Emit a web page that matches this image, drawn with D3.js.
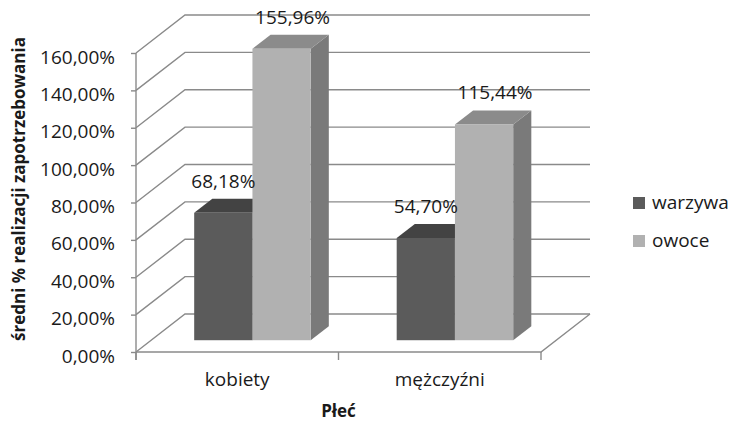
<!DOCTYPE html>
<html lang="pl">
<head>
<meta charset="UTF-8">
<title>Płeć</title>
<script src="https://cdn.jsdelivr.net/npm/d3@7"></script>
<style>
  body { margin: 0; background: #fff; }
  text { font-family: "Open Sans", "Liberation Sans", sans-serif; fill: #1a1a1a; }
</style>
</head>
<body>
<script>
// dane
var categories = ["kobiety", "mężczyźni"];
var series = ["warzywa", "owoce"];
var warzywa = [68.18, 54.70];
var owoce = [155.96, 115.44];
var yTicks = [0, 20, 40, 60, 80, 100, 120, 140, 160];

var values = [warzywa, owoce];
var frontColor = ["#5b5b5b", "#b1b1b1"];
var topColor = ["#434343", "#8b8b8b"];
var sideColor = ["#3a3a3a", "#7a7a7a"];

var width = 731, height = 421;
// uwaga: "top" to zmienna globalna okna, stąd inne nazwy
var plotLeft = 136, plotRight = 541, plotBottom = 352, plotTop = 53;
// przesunięcie głębi (perspektywa 3D)
var dX = 49, dY = -38;
var fFront = 0.31, fDepth = 0.37;

var pl = d3.formatLocale({ decimal: ",", thousands: " ", grouping: [3], currency: ["", " zł"] });
var fmt = function(v) { return pl.format(".2f")(v) + "%"; };

var svg = d3.select("body").append("svg")
    .attr("width", width)
    .attr("height", height);

var y = d3.scaleLinear().domain([0, 160]).range([plotBottom, plotTop]);
var x0 = d3.scaleBand().domain(categories).range([plotLeft, plotRight]);
var gap = 43;
var x1 = d3.scaleBand().domain(series).range([gap, x0.bandwidth() - gap]);

var grid = svg.append("g")
    .attr("stroke", "#8a8a8a")
    .attr("stroke-width", 1.4)
    .attr("fill", "none");

// ściana tylna + lewa
yTicks.forEach(function(t) {
    var yy = y(t);
    grid.append("path")
        .attr("d", "M" + plotLeft + "," + yy + "L" + (plotLeft + dX) + "," + (yy + dY) + "L" + (plotRight + dX) + "," + (yy + dY));
});
// podłoga
grid.append("path")
    .attr("d", "M" + plotLeft + "," + plotBottom + "L" + plotRight + "," + plotBottom + "L" + (plotRight + dX) + "," + (plotBottom + dY));
// oś pionowa
grid.append("line")
    .attr("x1", plotLeft).attr("x2", plotLeft)
    .attr("y1", y(160)).attr("y2", plotBottom + 8);
// znaczniki kategorii
categories.map(function(c) { return x0(c); }).concat([plotRight]).forEach(function(xx) {
    grid.append("line")
        .attr("x1", xx).attr("x2", xx)
        .attr("y1", plotBottom).attr("y2", plotBottom + 8);
});

// oś Y
var yAxis = svg.append("g")
    .attr("transform", "translate(" + plotLeft + ",0)")
    .call(d3.axisLeft(y).tickValues(yTicks).tickFormat(fmt).tickSize(5).tickPadding(16));
yAxis.select(".domain").remove();
yAxis.selectAll(".tick line").attr("stroke", "#8a8a8a").attr("stroke-width", 1.4);
yAxis.selectAll(".tick text")
    .attr("dy", "0.53em")
    .style("font-size", "19px")
    .style("font-family", "'Open Sans', sans-serif")
    .attr("fill", "#1a1a1a");

// słupki 3D
var bars = svg.append("g");
var bw = x1.bandwidth();
var ddx = fDepth * dX, ddy = fDepth * dY;

series.forEach(function(s, si) {
    categories.forEach(function(c, ci) {
        var v = values[si][ci];
        var bx = x0(c) + x1(s) + fFront * dX;
        var yb = y(0) + fFront * dY;
        var yt = y(v) + fFront * dY;
        var g = bars.append("g");
        // bok
        g.append("path")
            .attr("fill", sideColor[si])
            .attr("d", "M" + (bx + bw) + "," + yt + "L" + (bx + bw + ddx) + "," + (yt + ddy) +
                "L" + (bx + bw + ddx) + "," + (yb + ddy) + "L" + (bx + bw) + "," + yb + "Z");
        // góra
        g.append("path")
            .attr("fill", topColor[si])
            .attr("d", "M" + bx + "," + yt + "L" + (bx + bw) + "," + yt +
                "L" + (bx + bw + ddx) + "," + (yt + ddy) + "L" + (bx + ddx) + "," + (yt + ddy) + "Z");
        // przód
        g.append("rect")
            .attr("x", bx).attr("y", yt)
            .attr("width", bw).attr("height", yb - yt)
            .attr("fill", frontColor[si]);
    });
});

// etykiety wartości
var labelShift = [0, 11];
series.forEach(function(s, si) {
    categories.forEach(function(c, ci) {
        var v = values[si][ci];
        var bx = x0(c) + x1(s) + fFront * dX;
        svg.append("text")
            .attr("x", bx + bw / 2 + labelShift[si])
            .attr("y", y(v) + fFront * dY - 25)
            .attr("text-anchor", "middle")
            .style("font-size", "19px")
            .text(fmt(v));
    });
});

// etykiety kategorii
svg.append("g").selectAll("text")
    .data(categories)
    .join("text")
    .attr("x", function(d) { return x0(d) + x0.bandwidth() / 2; })
    .attr("y", plotBottom + 34)
    .attr("text-anchor", "middle")
    .style("font-size", "19px")
    .text(function(d) { return d; });

// tytuły osi
svg.append("text")
    .attr("x", (plotLeft + plotRight) / 2)
    .attr("y", 417)
    .attr("text-anchor", "middle")
    .style("font-size", "17px")
    .style("font-weight", "bold")
    .text("Płeć");

svg.append("text")
    .attr("transform", "translate(25,189) rotate(-90)")
    .attr("text-anchor", "middle")
    .style("font-size", "17px")
    .style("font-weight", "bold")
    .text("średni % realizacji zapotrzebowania");

// legenda
var legend = svg.append("g").attr("transform", "translate(633,197)");
series.forEach(function(s, i) {
    var row = legend.append("g").attr("transform", "translate(0," + (i * 38) + ")");
    row.append("rect").attr("width", 12).attr("height", 12).attr("fill", frontColor[i]);
    row.append("text")
        .attr("x", 19).attr("y", 12)
        .style("font-size", "19px")
        .text(s);
});
</script>
</body>
</html>
